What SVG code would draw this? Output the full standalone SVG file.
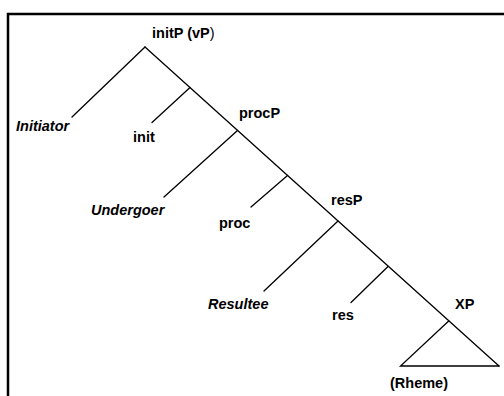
<svg xmlns="http://www.w3.org/2000/svg" width="504" height="396" viewBox="0 0 504 396">
<style>
.l{stroke:#000;stroke-width:1.3;fill:none;stroke-linecap:round}
.b{stroke:#000;stroke-width:2.5;fill:none}
text{font-family:"Liberation Sans",Arial,sans-serif;font-weight:bold;font-size:14.5px;fill:#000}
.i{font-style:italic}
</style>
<rect width="504" height="396" fill="#fff"/>
<g id="frame"><polyline class="b" points="504,14 8,14 8,396"/></g>
<g id="connectors">
<line class="l" x1="145" y1="47" x2="499" y2="366"/>
<line class="l" x1="145" y1="47" x2="72" y2="117"/>
<line class="l" x1="190" y1="87.5" x2="152" y2="122.5"/>
<line class="l" x1="237.5" y1="130.5" x2="164" y2="197"/>
<line class="l" x1="287.5" y1="175.5" x2="251" y2="207"/>
<line class="l" x1="338" y1="221" x2="264" y2="291"/>
<line class="l" x1="388" y1="266.5" x2="351" y2="302.5"/>
<polyline class="l" points="448.7,321 400.5,366 499,366"/>
</g>
<g id="initP"><text x="152" y="38">initP (vP<tspan font-weight="normal">)</tspan></text></g>
<g id="Initiator"><text class="i" x="16" y="131">Initiator</text></g>
<g id="init"><text x="133" y="142">init</text></g>
<g id="procP"><text x="239" y="118">procP</text></g>
<g id="Undergoer"><text class="i" x="91" y="215">Undergoer</text></g>
<g id="proc"><text x="219" y="228">proc</text></g>
<g id="resP"><text x="331" y="205">resP</text></g>
<g id="Resultee"><text class="i" x="208" y="309">Resultee</text></g>
<g id="res"><text x="332" y="320">res</text></g>
<g id="XP"><text x="455" y="309">XP</text></g>
<g id="Rheme"><text x="390" y="388">(Rheme)</text></g>
</svg>
